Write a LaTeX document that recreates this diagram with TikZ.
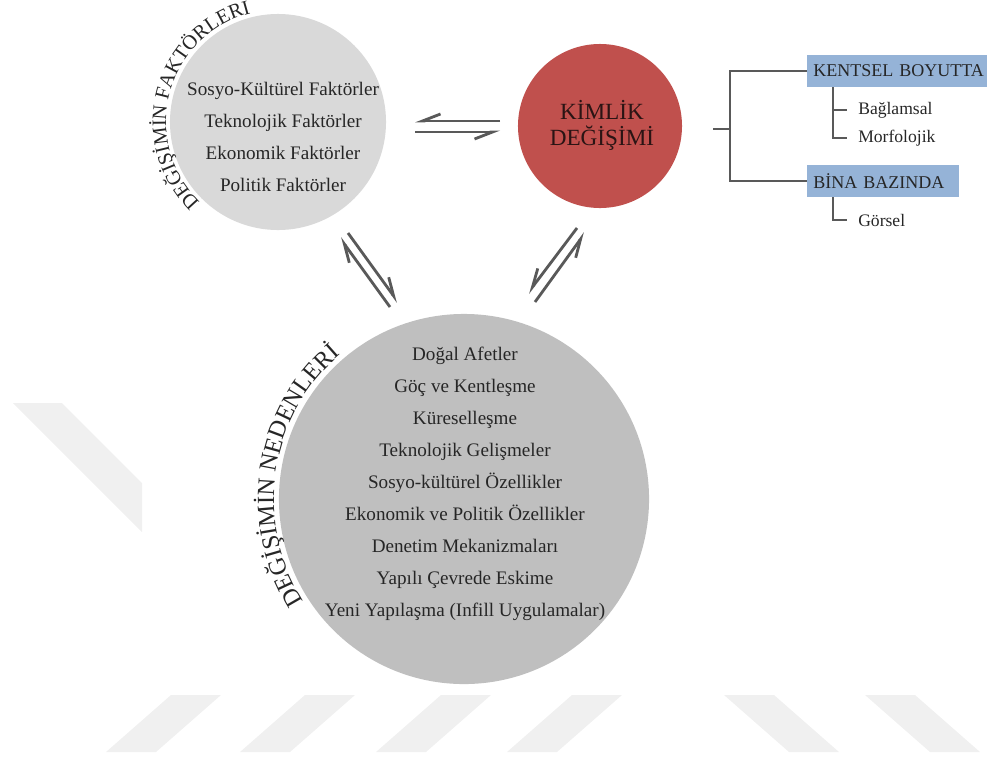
\documentclass[tikz,border=0pt]{standalone}
\usepackage{fontspec}
\setmainfont{Liberation Serif}
\usetikzlibrary{arrows.meta, calc, decorations.text, positioning}

\definecolor{faktorgri}{HTML}{D9D9D9}
\definecolor{nedengri}{HTML}{BFBFBF}
\definecolor{kimlikkirmizi}{HTML}{C0504D}
\definecolor{kutumavi}{HTML}{95B3D7}
\definecolor{okgri}{HTML}{595959}
\definecolor{filigran}{HTML}{F0F0F0}
\definecolor{yazi}{HTML}{262626}
\definecolor{kimlikyazi}{HTML}{2A1414}

\begin{document}
\begin{tikzpicture}[x=0.025cm, y=0.025cm,
    govde/.style={font=\fontsize{13.6}{22.8}\selectfont, text=yazi, align=center},
    kutu/.style={fill=kutumavi, anchor=west, inner xsep=0.15cm, inner ysep=0pt, minimum height=0.8cm, align=left, font=\fontsize{12.8}{15}\selectfont, text=yazi},
    altmadde/.style={anchor=west, inner sep=0pt, font=\fontsize{12.5}{15}\selectfont, text=yazi},
    denge/.style={draw=okgri, line width=2pt},
    agac/.style={draw=okgri, line width=1.4pt},
    ]
    \useasboundingbox (0,0) rectangle (987,-778);

    % Watermark stripes
    \fill[filigran] (13,-403) -- (62,-403) -- (142,-483) -- (142,-532) -- cycle;
    \foreach \xx in {106, 240, 376, 507} {
        \fill[filigran] (\xx,-752) -- ++(50,0) -- ++(65,57) -- ++(-50,0) -- cycle;
    }
    \foreach \xx in {789, 930} {
        \fill[filigran] (\xx,-752) -- ++(50,0) -- ++(-65,57) -- ++(-50,0) -- cycle;
    }

    % Circles
    \node[circle, fill=faktorgri, minimum size=5.4cm, inner sep=0pt] (faktor) at (278,-122) {};
    \node[circle, fill=kimlikkirmizi, minimum size=4.1cm, inner sep=0pt] (kimlik) at (600,-126) {};
    \node[circle, fill=nedengri, minimum size=9.25cm, inner sep=0pt] (neden) at (464,-499) {};

    % Texts in the circles
    \node[govde] (faktorliste) at (283,-137) {Sosyo-Kültürel Faktörler\\Teknolojik Faktörler\\Ekonomik Faktörler\\Politik Faktörler};
    \node[font=\fontsize{16.5}{18.5}\selectfont, text=kimlikyazi, align=center] (kimlikbaslik) at (602,-125) {KİMLİK\\DEĞİŞİMİ};
    \node[govde] (nedenliste) at (465,-484) {Doğal Afetler\\Göç ve Kentleşme\\Küreselleşme\\Teknolojik Gelişmeler\\Sosyo-kültürel Özellikler\\Ekonomik ve Politik Özellikler\\Denetim Mekanizmaları\\Yapılı Çevrede Eskime\\Yeni Yapılaşma (Infill Uygulamalar)};

    % Labels round the circles
    \begingroup\fontsize{14.5}{14.5}\selectfont
    \path[decorate, decoration={text along path, text align=center,
        text={|\color{yazi}|DEĞİŞİMİN FAKTÖRLERİ}}]
        ($(faktor.center)+(230:112)$) arc[start angle=230, end angle=100, radius=112];
    \endgroup
    \begingroup\fontsize{17.5}{17.5}\selectfont
    \path[decorate, decoration={text along path, text align=center,
        text={|\color{yazi}|DEĞİŞİMİN NEDENLERİ}}]
        ($(neden.center)+(216:190)$) arc[start angle=216, end angle=127, radius=190];
    \endgroup

    % Tree on the right
    \node[kutu, text width=4.5cm] (kentsel) at (807,-71) {KENTSEL BOYUTTA};
    \node[kutu, text width=3.5cm] (bina) at (807,-181) {BİNA BAZINDA};
    \node[altmadde] (baglamsal) at (858,-110) {Bağlamsal};
    \node[altmadde] (morfolojik) at (858,-138) {Morfolojik};
    \node[altmadde] (gorsel) at (858,-220) {Görsel};

    \coordinate (dal) at (713,-129);
    \coordinate (catal) at (730,-129);
    \draw[agac] (dal) -- (catal);
    \draw[agac] (kentsel.west) -| (catal) |- (bina.west);
    \draw[agac, line width=1pt] ($(kentsel.south west)+(26,0)$) |- ($(baglamsal.west)+(-11,0)$);
    \draw[agac, line width=1pt] ($(kentsel.south west)+(26,0)$) |- ($(morfolojik.west)+(-11,0)$);
    \draw[agac, line width=1pt] ($(bina.south west)+(26,0)$) |- ($(gorsel.west)+(-11,0)$);

    % Balance arrows
    \coordinate (h1a) at (500,-121); \coordinate (h1b) at (415,-121);
    \coordinate (h2a) at (415,-132); \coordinate (h2b) at (500,-132);
    \draw[denge, -{Straight Barb[right, length=4.5mm, width=3.5mm]}] (h1a) -- (h1b);
    \draw[denge, -{Straight Barb[right, length=4.5mm, width=3.5mm]}] (h2a) -- (h2b);

    \coordinate (l1a) at (390,-307); \coordinate (l1b) at (340,-238);
    \coordinate (l2a) at (348,-233); \coordinate (l2b) at (398,-302);
    \draw[denge, -{Straight Barb[left, length=4.5mm, width=3.5mm]}] (l1a) -- (l1b);
    \draw[denge, -{Straight Barb[left, length=4.5mm, width=3.5mm]}] (l2a) -- (l2b);

    \coordinate (r1a) at (577,-228); \coordinate (r1b) at (528,-293);
    \coordinate (r2a) at (535,-302); \coordinate (r2b) at (585,-233);
    \draw[denge, -{Straight Barb[right, length=4.5mm, width=3.5mm]}] (r1a) -- (r1b);
    \draw[denge, -{Straight Barb[right, length=4.5mm, width=3.5mm]}] (r2a) -- (r2b);
\end{tikzpicture}
\end{document}
